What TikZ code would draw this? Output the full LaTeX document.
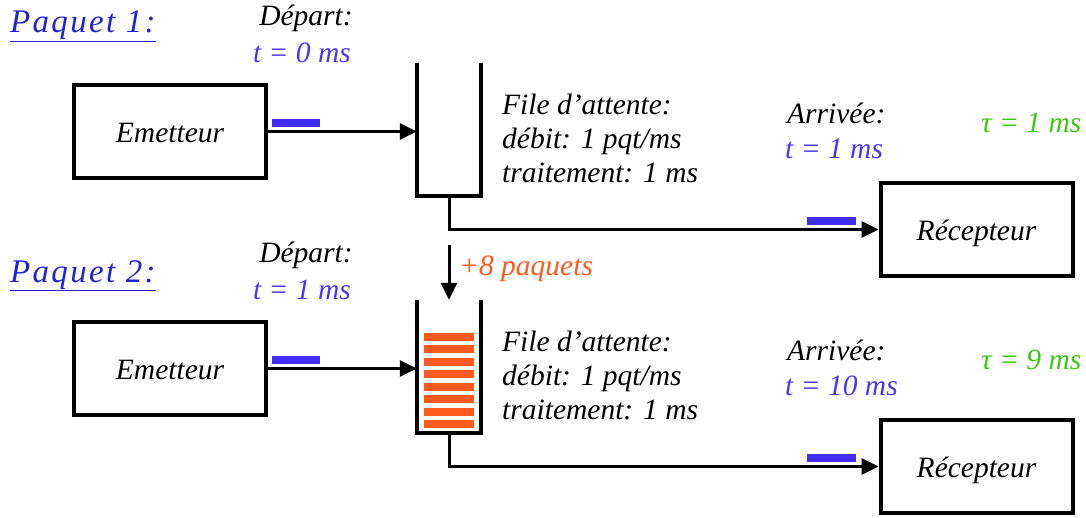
\documentclass[tikz,border=0pt]{standalone}
\usepackage{fontspec}
\setmainfont{Liberation Serif}[ItalicFont={Liberation Serif Italic}, Ligatures=NoCommon]
\usetikzlibrary{arrows.meta}
\definecolor{tblue}{RGB}{75,55,240}
\definecolor{pblue}{RGB}{65,45,245}
\definecolor{hblue}{RGB}{35,35,205}
\definecolor{tgreen}{RGB}{60,200,20}
\definecolor{torange}{RGB}{255,90,30}
\newcommand\myfont{\fontsize{29.5}{34}\selectfont\itshape}
\newcommand\apos{\char"0027\relax}
\tikzset{
  box/.style={draw, line width=4pt, minimum width=192pt, minimum height=93pt, inner sep=0pt, font=\myfont},
  qbox/.style={minimum width=64pt, minimum height=133pt, inner sep=0pt},
  wall/.style={line width=4pt},
  wire/.style={line width=3pt, -{Triangle[length=17pt,width=16pt]}},
  lbl/.style={font=\myfont, inner sep=0pt, anchor=base west},
  lblc/.style={font=\myfont, inner sep=0pt, anchor=base},
  title/.style={font=\fontsize{33}{38}\selectfont\itshape\addfontfeatures{LetterSpace=7}, text=hblue, inner sep=0pt, anchor=base west},
}
\begin{document}
\begin{tikzpicture}[x=1pt,y=-1pt]
\useasboundingbox[fill=white] (0,0) rectangle (1086,517);
\foreach \dy/\n in {0/1, 237/2} {
  \begin{scope}[yshift=-\dy pt]
  \node[box] (e\n) at (170,131.5) {};
  \node[box] (r\n) at (976.5,229.5) {};
  \node[qbox] (q\n) at (449,129.5) {};
  \draw[wall] (q\n.north west) -- (q\n.south west) -- (q\n.south east) -- (q\n.north east);
  \draw[wire] (e\n.east) -- (q\n.west |- e\n.east);
  \draw[wire] (q\n.south) |- (r\n.west);
  \fill[pblue] (272,119) rectangle (320,126.5);
  \fill[pblue] (807,217) rectangle (856,224.5);
  \node[lbl] (f\n a) at (502,114) {File d\apos attente:};
  \node[lbl] (f\n b) at (502,148) {débit: 1 pqt/ms};
  \node[lbl] (f\n c) at (502,182) {traitement: 1 ms};
  \node[lblc] (d\n) at (306,25) {Départ:};
  \node[lbl] (a\n) at (787,123) {Arrivée:};
  \end{scope}
}
\node[lblc] at (e1.center) [yshift=-11pt] {Emetteur};
\node[lblc] at (e2.center) [yshift=-11pt] {Emetteur};
\node[lblc] at (r1.center) [yshift=-10.5pt] {Récepteur};
\node[lblc] at (r2.center) [yshift=-10.5pt] {Récepteur};
\node[title] (p1) at (10,32.5) {\underline{Paquet 1:}};
\node[title] (p2) at (10,282) {\underline{Paquet 2:}};
\node[lblc, text=tblue] (t1) at (302,62) {t = 0 ms};
\node[lblc, text=tblue] (t2) at (302,299) {t = 1 ms};
\node[lbl, text=tblue] (ta1) at (785,158) {t = 1 ms};
\node[lbl, text=tblue] (ta2) at (785,395) {t = 10 ms};
\node[lbl, text=tgreen] (tau1) at (981,132) {τ = 1 ms};
\node[lbl, text=tgreen] (tau2) at (981,369) {τ = 9 ms};
% added packets
\foreach \k in {0,...,7} {
  \fill[torange] (424,332.7+\k*12.5) rectangle (474,340.7+\k*12.5);
}
\coordinate (drop) at (449,245);
\draw[wire] (drop) -- (q2.north);
\node[lbl, text=torange] (plus) at (459,275) {+8 paquets};
\end{tikzpicture}
\end{document}
